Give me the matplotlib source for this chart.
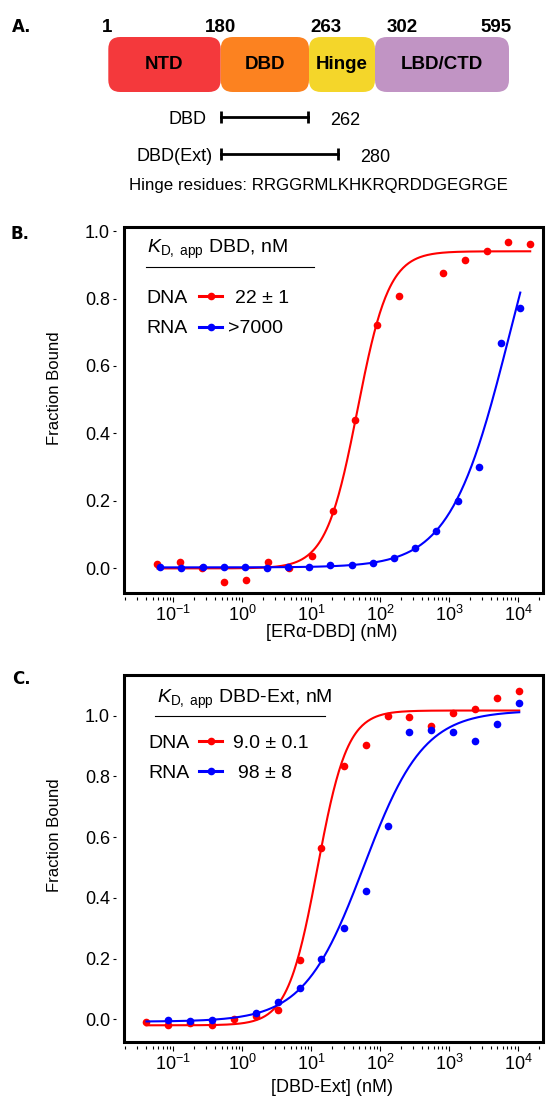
import numpy as np
import matplotlib
matplotlib.use('Agg')
import matplotlib.pyplot as plt
from matplotlib.patches import FancyBboxPatch, Rectangle
from matplotlib.ticker import FormatStrFormatter, LogLocator

plt.rcParams['font.family'] = ['Liberation Sans', 'DejaVu Sans']
plt.rcParams['mathtext.fontset'] = 'custom'
plt.rcParams['mathtext.rm'] = 'Liberation Sans'
plt.rcParams['mathtext.it'] = 'Liberation Sans:italic'
plt.rcParams['mathtext.bf'] = 'Liberation Sans:bold'

# ---- Panel A: ERa domain map ----
domains = ['NTD', 'DBD', 'Hinge', 'LBD/CTD']
domain_colors = ['#F4393C', '#FC8220', '#F4D62A', '#C194C4']
boundaries = [1, 180, 263, 302, 595]
constructs = ['DBD', 'DBD(Ext)']
construct_start = 180
construct_end = [262, 280]
hinge_seq = 'RRGGRMLKHKRQRDDGEGRGE'

# ---- Panel B: ERa-DBD binding ----
b_dna_x = [0.0586, 0.125, 0.258, 0.545, 1.12, 2.34, 4.83, 10.1, 21.0, 43.8,
           89.5, 189, 813, 1690, 3540, 7210, 15000]
b_dna_y = [0.012, 0.02, 0.0, -0.039, -0.035, 0.02, 0.0, 0.036, 0.17, 0.44,
           0.722, 0.807, 0.877, 0.913, 0.94, 0.967, 0.961]
b_rna_x = [0.0641, 0.131, 0.267, 0.545, 1.11, 2.27, 4.57, 9.33, 18.8, 38.8,
           78.3, 158, 319, 650, 1324, 2673, 5650, 10770]
b_rna_y = [0.005, 0.0, 0.005, 0.003, 0.003, 0.002, 0.005, 0.003, 0.01, 0.011,
           0.017, 0.031, 0.061, 0.11, 0.199, 0.30, 0.668, 0.771]
# fit params: bottom, top, Kd, hill
b_dna_fit = (0.0, 0.94, 46.8, 1.9)
b_rna_fit = (0.003, 1.40, 7700, 1.0)

# ---- Panel C: DBD-Ext binding ----
c_dna_x = [0.0407, 0.0832, 0.174, 0.363, 0.759, 1.57, 3.24, 6.76, 14.0, 29.5,
           61.7, 128, 263, 550, 1150, 2400, 5010, 10400]
c_dna_y = [-0.008, -0.02, -0.012, -0.02, 0.001, 0.012, 0.03, 0.194, 0.565, 0.835,
           0.905, 1.0, 0.994, 0.966, 1.009, 1.023, 1.058, 1.082]
c_rna_x = [0.0832, 0.174, 0.363, 1.57, 3.24, 6.76, 14.0, 29.5,
           61.7, 128, 263, 550, 1150, 2400, 5010, 10400]
c_rna_y = [-0.002, -0.005, -0.002, 0.022, 0.057, 0.104, 0.199, 0.302,
           0.423, 0.635, 0.947, 0.952, 0.946, 0.916, 0.973, 1.041]
c_dna_fit = (-0.02, 1.017, 12.3, 2.0)
c_rna_fit = (-0.008, 1.017, 58, 1.0)

kd_labels_b = ['22 ± 1', '>7000']
kd_labels_c = ['9.0 ± 0.1', '98 ± 8']


def hill(x, bottom, top, kd, n):
    return bottom + (top - bottom) * x**n / (kd**n + x**n)


W, H = 550, 1101
fig = plt.figure(figsize=(W / 100, H / 100), dpi=100)

# panel A drawn in pixel units
axA = fig.add_axes([0, 1 - 200 / H, 1, 200 / H])
axA.set_xlim(0, W)
axA.set_ylim(200, 0)
axA.axis('off')
edges_px = [108.3, 220.7, 309, 375, 509]
for i, name in enumerate(domains):
    x0 = np.interp(boundaries[i], boundaries, edges_px)
    x1 = np.interp(boundaries[i + 1], boundaries, edges_px)
    axA.add_patch(FancyBboxPatch((x0, 37), x1 - x0, 55,
                                 boxstyle='round,pad=0,rounding_size=12',
                                 fc=domain_colors[i], ec='none'))
    axA.text((x0 + x1) / 2, 69, name, ha='center', va='baseline',
             fontsize=13.5, fontweight='bold')
num_ha = ['center', 'center', 'left', 'left', 'right']
num_shift = [-1.5, 0, 1, 12, 3]
for b, ha, dx in zip(boundaries, num_ha, num_shift):
    axA.text(np.interp(b, boundaries, edges_px) + dx, 31.5, str(b), ha=ha,
             va='baseline', fontsize=13.5, fontweight='bold')

bar_y = [117.3, 154.3]
label_right = [206.7, 212.3]
for name, end, y, xr in zip(constructs, construct_end, bar_y, label_right):
    xs = np.interp([construct_start, end], boundaries, edges_px)
    axA.plot(xs, [y, y], color='black', lw=2, marker='|', ms=8, mew=2)
    axA.text(xr, y + 6.3, name, ha='right', va='baseline', fontsize=13)
    axA.text(xs[1] + 22, y + 7.5, str(end), ha='left', va='baseline', fontsize=13)
axA.text(129.3, 190, 'Hinge residues: ' + hinge_seq, ha='left', va='baseline',
         fontsize=12.2)

fig.text(12 / W, 1 - 27.5 / H, 'A.', family='DejaVu Sans', fontweight='bold',
         fontsize=12, va='center')
fig.text(10 / W, 1 - 234 / H, 'B.', family='DejaVu Sans', fontweight='bold',
         fontsize=12, va='center')
fig.text(12 / W, 1 - 679 / H, 'C.', family='DejaVu Sans', fontweight='bold',
         fontsize=12, va='center')


def binding_panel(rect, dna_x, dna_y, rna_x, rna_y, dna_fit, rna_fit, ylim,
                  xlabel, title, kd_labels, leg, xlab_y, ylab_y, shared_curve):
    ax = fig.add_axes(rect)
    ax.set_xscale('log')
    ax.set_xlim(0.0192, 23000)
    ax.set_ylim(*ylim)

    if shared_curve:
        lo, hi = min(min(dna_x), min(rna_x)), max(max(dna_x), max(rna_x))
        xd = xr = np.logspace(np.log10(lo), np.log10(hi), 400)
    else:
        xd = np.logspace(np.log10(min(dna_x)), np.log10(max(dna_x)), 400)
        xr = np.logspace(np.log10(min(rna_x)), np.log10(max(rna_x)), 400)
    ax.plot(xd, hill(xd, *dna_fit), color='red', lw=1.5, zorder=2)
    ax.plot(dna_x, dna_y, 'o', color='red', ms=5.5, mew=0, zorder=3)
    ax.plot(xr, hill(xr, *rna_fit), color='blue', lw=1.5, zorder=4)
    ax.plot(rna_x, rna_y, 'o', color='blue', ms=5.5, mew=0, zorder=5)

    for s in ax.spines.values():
        s.set_visible(False)
    ax.spines['left'].set_position(('outward', 6))
    ax.spines['bottom'].set_position(('outward', 3))
    ax.add_patch(Rectangle((0, 0), 1, 1, transform=ax.transAxes, fill=False,
                           lw=2.2, ec='black', clip_on=False, zorder=6))

    ax.set_yticks(np.arange(0, 1.01, 0.2))
    ax.yaxis.set_major_formatter(FormatStrFormatter('%.1f'))
    ax.xaxis.set_major_locator(LogLocator(base=10, numticks=12))
    ax.xaxis.set_minor_locator(LogLocator(base=10, subs=np.arange(2, 10), numticks=12))
    ax.tick_params(axis='y', direction='out', length=2.5, width=0.8, pad=1.5,
                   labelsize=13)
    ax.tick_params(axis='x', which='major', direction='out', length=3.5, width=0.8,
                   pad=2, labelsize=13)
    ax.tick_params(axis='x', which='minor', direction='out', length=2.5, width=0.8)

    ax.text(0.496, xlab_y, xlabel, transform=ax.transAxes, ha='center',
            va='center', fontsize=13)
    ax.text(-0.167, ylab_y, 'Fraction Bound', transform=ax.transAxes,
            rotation=90, ha='center', va='center', fontsize=12)

    # legend block
    tx, ty, ux0, ux1, uy, rows = leg
    ax.text(tx, ty, title, transform=ax.transAxes, ha='left', va='baseline',
            fontsize=14)
    ax.plot([ux0, ux1], [uy, uy], color='black', lw=0.8,
            transform=ax.transAxes, clip_on=False)
    for (name, color, kd), (nx, nb, ly, vx) in zip(
            [('DNA', 'red', kd_labels[0]), ('RNA', 'blue', kd_labels[1])], rows):
        ax.text(nx, nb, name, transform=ax.transAxes, ha='left',
                va='baseline', fontsize=14)
        ax.plot([0.1797, 0.2332], [ly, ly], color=color, lw=2.2,
                transform=ax.transAxes, clip_on=False)
        ax.plot([0.2065], [ly], 'o', color=color, ms=5.5, mew=0,
                transform=ax.transAxes, clip_on=False)
        ax.text(vx, nb, kd, transform=ax.transAxes, ha='left',
                va='baseline', fontsize=14)
    return ax


binding_panel([124 / W, 1 - 592.7 / H, 419 / W, 365.7 / H],
              b_dna_x, b_dna_y, b_rna_x, b_rna_y, b_dna_fit, b_rna_fit,
              (-0.072, 1.012), '[ERα-DBD] (nM)',
              r'$\mathit{K}_{\mathrm{D,\ app}}$ DBD, nM', kd_labels_b,
              (0.0537, 0.929, 0.0525, 0.4542, 0.8898,
               [(0.0542, 0.793, 0.8113, 0.2649), (0.0542, 0.7093, 0.7274, 0.2475)]),
              -0.110, 0.56, False)

binding_panel([124 / W, 1 - 1042.3 / H, 419 / W, 367.3 / H],
              c_dna_x, c_dna_y, c_rna_x, c_rna_y, c_dna_fit, c_rna_fit,
              (-0.076, 1.134), '[DBD-Ext] (nM)',
              r'$\mathit{K}_{\mathrm{D,\ app}}$ DBD-Ext, nM', kd_labels_c,
              (0.078, 0.9237, 0.0740, 0.4797, 0.8884,
               [(0.058, 0.8004, 0.8211, 0.2594), (0.058, 0.7188, 0.7395, 0.2728)]),
              -0.124, 0.564, True)

fig.savefig('out.png', dpi=100)
